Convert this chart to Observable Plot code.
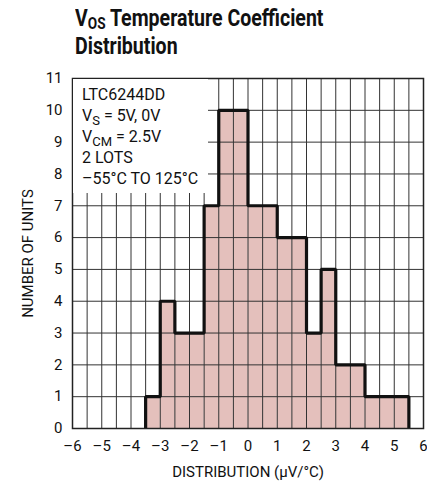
<!DOCTYPE html>
<html>
<head>
<meta charset="utf-8">
<script src="https://cdn.jsdelivr.net/npm/d3@7"></script>
<script src="https://cdn.jsdelivr.net/npm/@observablehq/plot@0.6"></script>
<style>
  body { margin: 0; background: #fff; width: 427px; height: 487px; position: relative; overflow: hidden;
         font-family: "Roboto", "Liberation Sans", sans-serif; }
  #title { position: absolute; left: 75px; top: 5px; font-weight: bold; font-size: 23px; line-height: 28px; color: #111;
           transform: scaleX(0.85); transform-origin: left top; white-space: nowrap; }
  #title .sub { font-size: 16px; position: relative; top: 3px; line-height: 16px; }
  #chart { position: absolute; left: 0; top: 60px; }
  #note { position: absolute; left: 73px; top: 79px; width: 135px; height: 114px; background: #fff;
          font-size: 16px; line-height: 21px; color: #111; padding: 5px 0 0 9px; box-sizing: border-box; white-space: nowrap; }
  #note .sub { font-size: 13px; position: relative; top: 4px; line-height: 13px; }
  svg text { font-family: "Roboto", "Liberation Sans", sans-serif; }
</style>
</head>
<body>
<div id="title">V<span class="sub">OS</span> Temperature Coefficient<br>Distribution</div>
<div id="chart"></div>
<div id="note">LTC6244DD<br>V<span class="sub">S</span> = 5V, 0V<br>V<span class="sub">CM</span> = 2.5V<br>2 LOTS<br>–55°C TO 125°C</div>
<script>
// Histogram bins (left edge, µV/°C), bin width 0.5
const binStarts = [-3.5, -3, -2.5, -2, -1.5, -1, -0.5, 0, 0.5, 1, 1.5, 2, 2.5, 3, 3.5, 4, 4.5, 5];
const counts    = [1, 4, 3, 3, 7, 10, 10, 7, 7, 6, 6, 3, 5, 2, 2, 1, 1, 1];
const binWidth = 0.5;
const xTicks = [-6, -5, -4, -3, -2, -1, 0, 1, 2, 3, 4, 5, 6];
const xTickLabels = ["–6", "–5", "–4", "–3", "–2", "–1", "0", "1", "2", "3", "4", "5", "6"];
const yTicks = [0, 1, 2, 3, 4, 5, 6, 7, 8, 9, 10, 11];
const xGrid = d3.range(-6, 6.001, 0.5);

const bins = binStarts.map((x, i) => ({x1: x, x2: x + binWidth, y: counts[i]}));
const outline = [{x: binStarts[0], y: 0}, ...binStarts.map((x, i) => ({x, y: counts[i]})),
                 {x: binStarts[binStarts.length - 1] + binWidth, y: 0}];

const chart = Plot.plot({
  width: 427,
  height: 427,
  marginLeft: 72,
  marginRight: 4,
  marginTop: 18,
  marginBottom: 59,
  style: {fontSize: "15px", color: "#111", background: "transparent"},
  x: {domain: [-6, 6]},
  y: {domain: [0, 11]},
  marks: [
    Plot.rectY(bins, {x1: "x1", x2: "x2", y: "y", fill: "#e4c0bc"}),
    Plot.ruleX(xGrid, {stroke: "#333", strokeWidth: 1}),
    Plot.ruleY(yTicks, {stroke: "#333", strokeWidth: 1}),
    Plot.line(outline, {x: "x", y: "y", curve: "step-after", stroke: "#111", strokeWidth: 3.2,
                        strokeLinejoin: "miter", strokeLinecap: "butt"}),
    Plot.frame({stroke: "#222", strokeWidth: 1.5}),
    Plot.axisX({ticks: xTicks, tickFormat: (d, i) => xTickLabels[i], tickSize: 0, tickPadding: 12,
                label: "DISTRIBUTION (μV/°C)", labelAnchor: "center", labelOffset: 48, labelArrow: "none"}),
    Plot.axisY({ticks: yTicks, tickSize: 0, tickPadding: 10,
                label: "NUMBER OF UNITS", labelAnchor: "center", labelOffset: 50, labelArrow: "none"})
  ]
});
document.getElementById("chart").appendChild(chart);
</script>
</body>
</html>
